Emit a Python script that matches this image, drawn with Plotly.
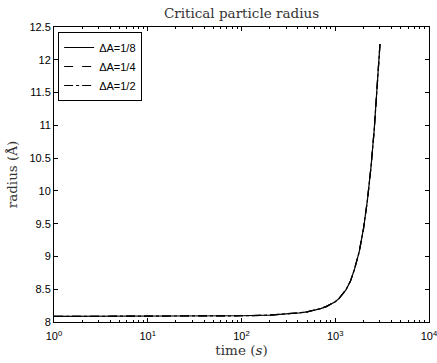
import plotly.graph_objects as go

# Data
time_s = [1, 2, 5, 10, 20, 50, 100, 200, 300, 415, 500, 600, 700, 800, 900,
          1000, 1100, 1200, 1300, 1450, 1600, 1800, 2000, 2200, 2400, 2600,
          2800, 3000]
radius_18 = [8.085, 8.086, 8.087, 8.088, 8.089, 8.091, 8.095, 8.105, 8.12,
             8.14, 8.155, 8.18, 8.205, 8.235, 8.27, 8.31, 8.36, 8.42, 8.49,
             8.62, 8.80, 9.07, 9.42, 9.85, 10.35, 10.92, 11.55, 12.24]
radius_14 = list(radius_18)
radius_12 = list(radius_18)
series_names = ["ΔA=1/8", "ΔA=1/4", "ΔA=1/2"]
series_dash = ["solid", "dash", "dashdot"]

x_tickvals = [1, 10, 100, 1000, 10000]
x_ticktext = ["10<sup>0</sup>", "10<sup>1</sup>", "10<sup>2</sup>",
              "10<sup>3</sup>", "10<sup>4</sup>"]
x_minor = [m * 10 ** e for e in range(4) for m in range(2, 10)]
y_tickvals = [8, 8.5, 9, 9.5, 10, 10.5, 11, 11.5, 12, 12.5]
y_ticktext = ["8", "8.5", "9", "9.5", "10", "10.5", "11", "11.5", "12", "12.5"]

fig = go.Figure()
for name, ys, dash in zip(series_names, [radius_18, radius_14, radius_12], series_dash):
    fig.add_trace(go.Scatter(x=time_s, y=ys, mode="lines", name=name,
                             line=dict(color="black", width=1.2, dash=dash)))

serif = "DejaVu Serif, serif"
tickfont = dict(family="Liberation Sans, Arial, sans-serif", size=11, color="black")
fig.update_layout(
    width=437, height=363,
    margin=dict(l=54, r=8, t=27, b=41),
    paper_bgcolor="white", plot_bgcolor="white",
    title=dict(text="Critical particle radius", x=0.5, xref="paper", xanchor="center",
               y=0.964, yref="container", yanchor="middle",
               font=dict(family=serif, size=13.5, color="#333")),
    legend=dict(x=0.011, y=0.983, xanchor="left", yanchor="top",
                bgcolor="white", bordercolor="black", borderwidth=1,
                font=dict(family="Liberation Sans, Arial, sans-serif", size=11, color="black"),
                tracegroupgap=0, itemwidth=30),
    showlegend=True,
)
fig.update_xaxes(
    type="log", range=[0, 4], automargin=False,
    tickmode="array", tickvals=x_tickvals, ticktext=x_ticktext,
    ticks="inside", ticklen=4, tickcolor="black",
    ticklabelstandoff=4, ticklabeloverflow="allow",
    minor=dict(tickmode="array", tickvals=x_minor, ticks="inside", ticklen=2, tickcolor="black"),
    showline=True, linecolor="black", linewidth=1, mirror="allticks",
    showgrid=False, zeroline=False, tickfont=tickfont,
    title=dict(text="time (<i>s</i>)", standoff=0,
               font=dict(family=serif, size=13.5, color="#333")),
)
fig.update_yaxes(
    range=[8, 12.5], automargin=False,
    tickmode="array", tickvals=y_tickvals, ticktext=y_ticktext,
    ticks="inside", ticklen=4, tickcolor="black",
    showline=True, linecolor="black", linewidth=1, mirror="allticks",
    showgrid=False, zeroline=False, tickfont=tickfont,
    title=dict(text="radius (Å)", standoff=8,
               font=dict(family=serif, size=13.5, color="#333")),
)

fig.write_html("out.html", config={"displayModeBar": False},
               post_script="document.body.style.margin='0';document.body.style.overflow='hidden';")
